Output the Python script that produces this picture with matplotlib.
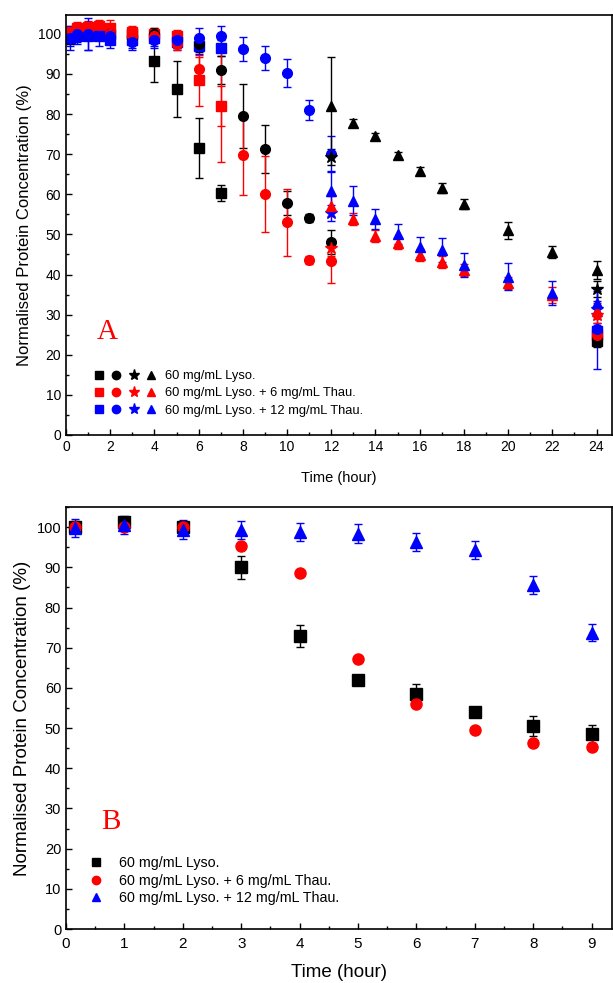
import matplotlib
matplotlib.use('Agg')
import matplotlib.pyplot as plt
from matplotlib.lines import Line2D
from matplotlib.legend_handler import HandlerTuple
from matplotlib.ticker import MultipleLocator

plt.rcParams['font.family'] = ['Liberation Sans', 'DejaVu Sans']

# ---- panel A data ----
t_sq = [0.17, 0.5, 1, 1.5, 2, 3, 4, 5, 6, 7, 24]
blk_sq = [100, 100.5, 101, 100.5, 100, 100, 93.3, 86.3, 71.5, 60.3, 23.5]
blk_sq_err = [1.5, 1.5, 1.5, 1.5, 1.5, 1.5, 5.2, 7, 7.5, 1.9, 1.5]
red_sq = [100.5, 101.5, 101.8, 102, 101.5, 100.5, 100, 99.5, 88.4, 82, 25]
red_sq_err = [1.5, 1.5, 1.5, 1.5, 2, 1.5, 1.5, 1.5, 6.3, 5, 1.5]
blu_sq = [99, 99.5, 99.5, 99.5, 98.5, 98.5, 99, 98, 97, 96.4, 26]
blu_sq_err = [2, 2, 3.5, 2.5, 2, 2, 2, 2, 2, 2, 2]

t_ci = [0.17, 0.5, 1, 2, 3, 4, 5, 6, 7, 8, 9, 10, 11, 12, 24]
blk_ci = [99, 100, 100, 100, 99, 100, 98, 97.5, 91, 79.6, 71.3, 57.9, 54, 48.2, 24]
blk_ci_err = [1.5, 1.5, 1.5, 1.5, 1.5, 1.5, 1.5, 2, 3.5, 8, 6, 3, 1, 3, 1.5]
red_ci = [100, 101, 101, 100, 99.5, 99.5, 97.5, 91.3, 82, 69.8, 60, 53, 43.5, 43.4, 25]
red_ci_err = [1.5, 1.5, 1.5, 2, 1.5, 1.5, 1.5, 3, 14, 10, 9.5, 8.3, 1, 5.5, 1.5]
blu_ci = [99, 100, 100, 99.5, 98, 98.5, 98.5, 98.9, 99.5, 96.2, 94, 90.2, 81, 70.1, 26.4]
blu_ci_err = [3, 2, 4, 2, 2, 2, 2, 2.5, 2.5, 3, 3, 3.5, 2.5, 4.5, 10]

t_st = [12, 24]
blk_st = [69.4, 36.3]
red_st = [46.6, 30]
blu_st = [55.3, 31.5]
st_err = [2, 2]

t_tr = [12, 13, 14, 15, 16, 17, 18, 20, 22, 24]
blk_tr = [81.9, 77.7, 74.4, 69.7, 65.7, 61.5, 57.6, 51, 45.7, 41.1]
blk_tr_err = [12.3, 1, 0.8, 0.8, 1, 1.2, 1.2, 2.2, 1.5, 2.3]
red_tr = [57.1, 53.8, 49.6, 47.8, 44.9, 43.2, 41.1, 38, 34.9, 31]
red_tr_err = [2.5, 1.5, 1.5, 1.5, 1.5, 1.5, 1.5, 1.5, 2, 2]
blu_tr = [60.7, 58.4, 53.8, 50, 46.8, 46, 42.4, 39.5, 35.3, 32.8]
blu_tr_err = [5, 3.6, 2.5, 2.5, 2.5, 3, 3, 3.3, 3, 3]

# ---- panel B data ----
t_b = [0.15, 1, 2, 3, 4, 5, 6, 7, 8, 9]
blk_b = [100.1, 101.2, 100, 90, 72.9, 61.9, 58.5, 53.9, 50.5, 48.5]
blk_b_err = [1.5, 1, 1, 2.8, 2.7, 1, 2.5, 0.5, 2.5, 2.2]
red_b = [100, 100, 100, 95.3, 88.6, 67.2, 55.9, 49.5, 46.4, 45.3]
red_b_err = [0.5, 0.5, 0.5, 0.5, 0.5, 0.5, 0.5, 0.5, 0.5, 0.5]
blu_b = [99.8, 100.5, 99.4, 99.3, 98.8, 98.4, 96.3, 94.3, 85.6, 73.7]
blu_b_err = [2.2, 2.3, 2.3, 2.3, 2.3, 2.3, 2.2, 2.2, 2.2, 2.1]

labels = ['60 mg/mL Lyso.', '60 mg/mL Lyso. + 6 mg/mL Thau.', '60 mg/mL Lyso. + 12 mg/mL Thau.']
colors = ['black', 'red', 'blue']

fig = plt.figure(figsize=(6.13, 9.83), dpi=100)
ax1 = fig.add_axes([0.1077, 0.5575, 0.8907, 0.4273])
ax2 = fig.add_axes([0.1077, 0.0549, 0.8907, 0.4293])


def eb(ax, x, y, e, c, m, ms=7):
    ax.errorbar(x, y, yerr=e, fmt=m, color=c, ms=ms, mec=c, mfc=c,
                elinewidth=1, capsize=3, capthick=1, ls='none')


sets = [
    ('s', t_sq, [(blk_sq, blk_sq_err), (red_sq, red_sq_err), (blu_sq, blu_sq_err)], 7),
    ('o', t_ci, [(blk_ci, blk_ci_err), (red_ci, red_ci_err), (blu_ci, blu_ci_err)], 7),
    ('*', t_st, [(blk_st, st_err), (red_st, st_err), (blu_st, st_err)], 9),
    ('^', t_tr, [(blk_tr, blk_tr_err), (red_tr, red_tr_err), (blu_tr, blu_tr_err)], 7),
]
for m, t, series, ms in sets:
    for (y, e), c in zip(series, colors):
        eb(ax1, t, y, e, c, m, ms)

for y, e, c, m in [(blk_b, blk_b_err, 'black', 's'), (red_b, red_b_err, 'red', 'o'),
                   (blu_b, blu_b_err, 'blue', '^')]:
    eb(ax2, t_b, y, e, c, m, 8)

# axes styling
for ax in (ax1, ax2):
    ax.tick_params(direction='in', which='both', top=False, right=False, labelsize=10)
    ax.tick_params(which='major', length=4, width=1)
    ax.tick_params(which='minor', length=2.5, width=1)
    ax.yaxis.set_major_locator(MultipleLocator(10))
    ax.yaxis.set_minor_locator(MultipleLocator(5))
    for s in ax.spines.values():
        s.set_linewidth(1.2)

ax1.set_xlim(0, 24.7)
ax1.set_ylim(0, 104.7)
ax1.xaxis.set_major_locator(MultipleLocator(2))
ax1.xaxis.set_minor_locator(MultipleLocator(1))
ax1.set_xlabel('Time (hour)', fontsize=10.5, labelpad=12)
ax1.set_ylabel('Normalised Protein Concentration (%)', fontsize=12)

ax2.set_xlim(0, 9.35)
ax2.set_ylim(0, 105)
ax2.xaxis.set_major_locator(MultipleLocator(1))
ax2.xaxis.set_minor_locator(MultipleLocator(0.5))
ax2.tick_params(axis='x', labelsize=11, pad=6)
ax2.tick_params(axis='y', labelsize=10.5)
ax2.set_xlabel('Time (hour)', fontsize=13.5, labelpad=9)
ax2.set_ylabel('Normalised Protein Concentration (%)', fontsize=13.5)

ax1.text(1.4, 24, 'A', color='red', fontsize=21, family='Liberation Serif')
ax2.text(0.6, 25, 'B', color='red', fontsize=21, family='Liberation Serif')

# legends
mk = ['s', 'o', '*', '^']
hands = []
for c in colors:
    hands.append(tuple(Line2D([], [], marker=m, color=c, ls='none',
                              ms=8 if m == '*' else 6) for m in mk))
ax1.legend(hands, labels, handler_map={tuple: HandlerTuple(ndivide=None, pad=0.6)},
           loc='lower left', bbox_to_anchor=(0.03, 0.016), frameon=False,
           fontsize=9.3, handlelength=4.8, handletextpad=0.7, labelspacing=0.4)

hb = [Line2D([], [], marker=m, color=c, ls='none', ms=6)
      for m, c in zip(['s', 'o', '^'], colors)]
ax2.legend(hb, labels, loc='lower left', bbox_to_anchor=(0.006, 0.026), frameon=False,
           fontsize=10.3, handletextpad=0.6, labelspacing=0.25)

fig.savefig('out.png', dpi=100)
